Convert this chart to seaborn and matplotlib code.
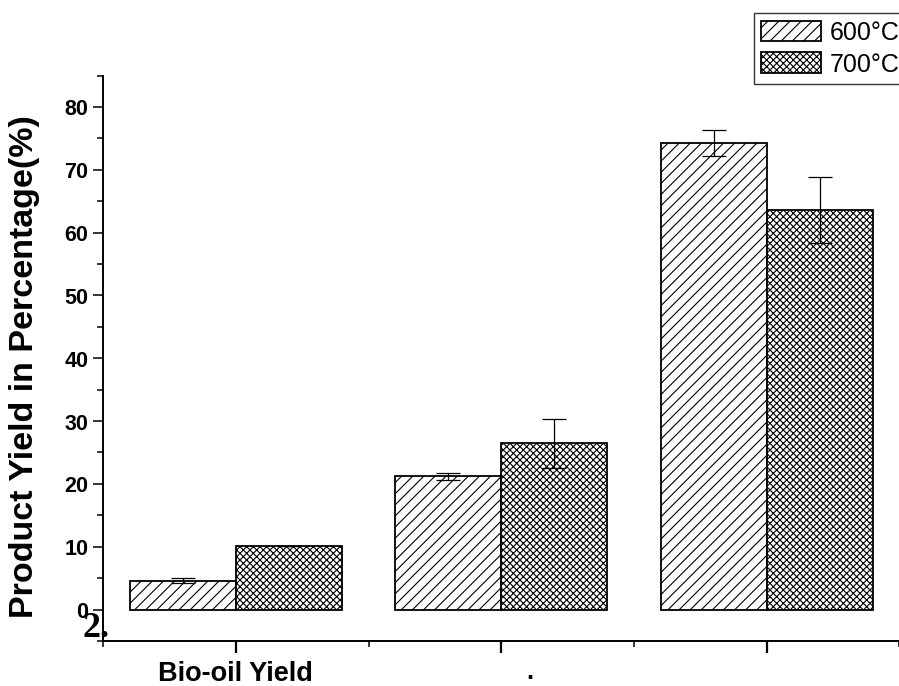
import numpy as np
import pandas as pd
import seaborn as sns
import matplotlib.pyplot as plt
from matplotlib.ticker import MultipleLocator, FixedLocator
from matplotlib.patches import Patch

# ---------------------------------------------------------------
# Datos
# ---------------------------------------------------------------
categorias = ["Bio-oil Yield", "Char Yield", "Gas Yield"]
etiquetas_x = ["Bio-oil Yield", "", ""]
temperaturas = ["600°C", "700°C"]
rend_600 = [4.55, 21.2, 74.3]
rend_700 = [10.05, 26.45, 63.6]
err_600 = [0.4, 0.6, 2.1]
err_700 = [0.0, 3.9, 5.2]

df = pd.DataFrame({
    "producto": categorias * 2,
    "temp": [temperaturas[0]] * 3 + [temperaturas[1]] * 3,
    "rendimiento": rend_600 + rend_700,
    "error": err_600 + err_700,
})

sns.set_style("ticks")
plt.rcParams["font.family"] = ["Liberation Sans", "DejaVu Sans"]
plt.rcParams["hatch.linewidth"] = 0.8
for k in ["axes.edgecolor", "xtick.color", "ytick.color", "text.color",
          "axes.labelcolor"]:
    plt.rcParams[k] = "black"

fig = plt.figure(figsize=(8.995, 6.865), dpi=100)
ax = fig.add_axes([0.1146, 0.0656, 0.8854, 0.8236])

sns.barplot(data=df, x="producto", y="rendimiento", hue="temp",
            order=categorias, hue_order=temperaturas,
            palette=["white", "white"], edgecolor="black", linewidth=1.3,
            errorbar=None, width=0.8, ax=ax, legend=False)

# tramas y barras de error
tramas = {temperaturas[0]: "///", temperaturas[1]: "xxxxx"}
for cont, temp in zip(ax.containers, temperaturas):
    errs = df[df["temp"] == temp]["error"].values
    vals = df[df["temp"] == temp]["rendimiento"].values
    xs = []
    for p in cont.patches:
        p.set_hatch(tramas[temp])
        xs.append(p.get_x() + p.get_width() / 2)
    ax.errorbar(xs, vals, yerr=errs, fmt="none", ecolor="black",
                elinewidth=0.9, capsize=8.5, capthick=0.9, zorder=5)

ax.set_xlim(-0.5, 2.5)
ax.set_ylim(-5, 85)
ax.yaxis.set_major_locator(FixedLocator(np.arange(0, 81, 10)))
ax.yaxis.set_minor_locator(MultipleLocator(5))
ax.xaxis.set_minor_locator(FixedLocator([-0.5, 0.5, 1.5, 2.5]))
ax.set_xticks(range(3))
ax.set_xticklabels(etiquetas_x, fontsize=19.5, fontweight="bold")
ax.tick_params(axis="y", which="major", length=7, width=1.1, pad=3.5,
               labelsize=15.5)
for t in ax.get_yticklabels():
    t.set_fontweight("bold")
ax.tick_params(axis="y", which="minor", length=4.3, width=1.1)
ax.tick_params(axis="x", which="major", length=8.5, width=1.6, pad=5.5)
ax.tick_params(axis="x", which="minor", length=4.3, width=1.1)

for s in ["top", "right"]:
    ax.spines[s].set_visible(False)
for s in ["left", "bottom"]:
    ax.spines[s].set_linewidth(1.4)

ax.set_xlabel("")
ax.set_ylabel("")
fig.text(24 / 899, 1 - 366 / 686, "Product Yield in Percentage(%)",
         rotation=90, ha="center", va="center", fontsize=24.5,
         fontweight="bold")

# leyenda
handles = [Patch(facecolor="white", edgecolor="black", hatch=tramas[t],
                 linewidth=1.3, label=t) for t in temperaturas]
leg = fig.legend(handles=handles, loc="upper left",
                 bbox_to_anchor=(0.838, 0.98), fontsize=18,
                 frameon=True, fancybox=False, edgecolor="black",
                 handlelength=2.4, handleheight=0.9, handletextpad=0.35,
                 labelspacing=0.3, borderpad=0.3, borderaxespad=0)
leg.get_frame().set_linewidth(1.0)

# restos de texto del original
fig.text(82 / 899, 1 - 637 / 686, "2.", fontsize=26, fontweight="bold",
         family=["Liberation Serif", "DejaVu Serif"], ha="left",
         va="baseline")
fig.text(529 / 899, 1 - 679 / 686, ".", fontsize=18, fontweight="bold",
         ha="center", va="baseline")

fig.savefig("out.png", dpi=100)
